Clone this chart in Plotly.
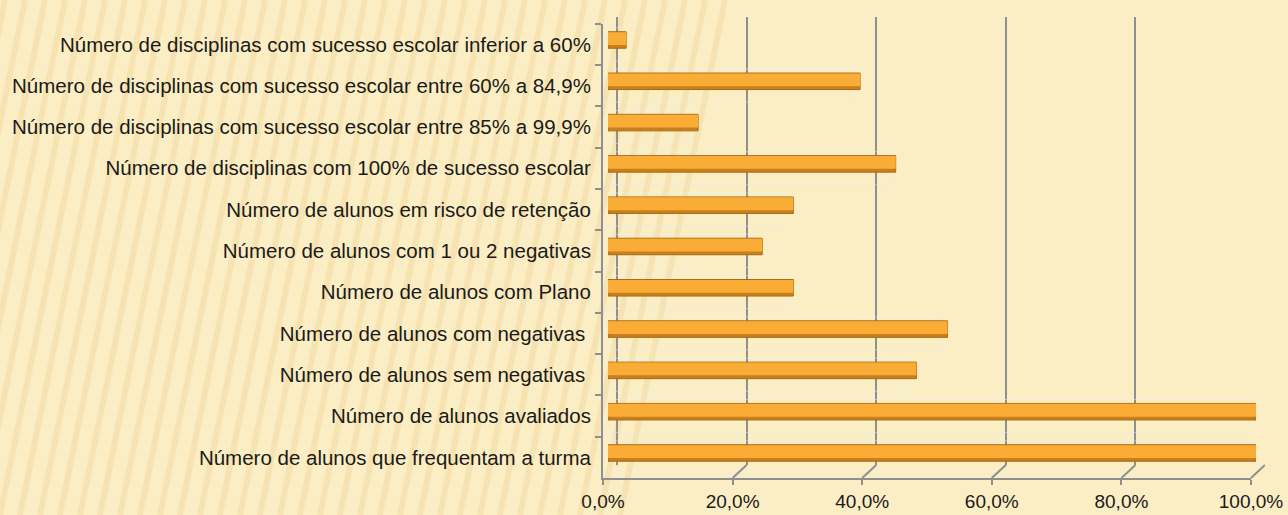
import plotly.graph_objects as go

# categories, top to bottom as in the chart
categorias = [
    "Número de disciplinas com sucesso escolar inferior a 60%",
    "Número de disciplinas com sucesso escolar entre 60% a 84,9%",
    "Número de disciplinas com sucesso escolar entre 85% a 99,9%",
    "Número de disciplinas com 100% de sucesso escolar",
    "Número de alunos em risco de retenção",
    "Número de alunos com 1 ou 2 negativas",
    "Número de alunos com Plano",
    "Número de alunos com negativas\u00a0",
    "Número de alunos sem negativas\u00a0",
    "Número de alunos avaliados",
    "Número de alunos que frequentam a turma",
]
percentagens = [0.028, 0.389, 0.139, 0.444, 0.286, 0.238, 0.286, 0.524, 0.476, 1.0, 1.0]
ticks_x = [0, 0.2, 0.4, 0.6, 0.8, 1.0]

W, H = 1288, 515
FONT = "Liberation Sans, Arial, sans-serif"
GREY = "#8f8f8f"

def px_x(a, b):
    return [a / W, b / W]

def px_y(top, bottom):
    return [1 - bottom / H, 1 - top / H]

fig = go.Figure()

# front frame: category labels and % axis (invisible bars just to carry categories)
fig.add_trace(go.Bar(x=percentagens, y=categorias, orientation="h", xaxis="x2", yaxis="y2",
                     marker=dict(color="rgba(0,0,0,0)"), hoverinfo="skip", showlegend=False))

# bars: darker body + lighter highlight to fake the cylinder look
# (y axis is reversed, so a negative offset sits towards the top of the bar)
fig.add_trace(go.Bar(x=percentagens, y=categorias, orientation="h", xaxis="x3", yaxis="y3",
                     width=0.4, marker=dict(color="#C97F1A", line=dict(color="#A96B16", width=1)),
                     showlegend=False, hovertemplate="%{y}: %{x:.1%}<extra></extra>"))
fig.add_trace(go.Bar(x=percentagens, y=categorias, orientation="h", xaxis="x3", yaxis="y3",
                     width=0.31, offset=-0.19, marker=dict(color="#F9AD36", line=dict(width=0)),
                     hoverinfo="skip", showlegend=False))

# background texture stripes
shapes = []
for i in range(-6, 32):
    x0 = i * 20
    shapes.append(dict(type="line", xref="paper", yref="paper", layer="below",
                       x0=x0 / W, y0=0, x1=(x0 + 105) / W, y1=1,
                       line=dict(color="rgba(226,192,110,0.22)", width=6)))

# diagonal connectors back wall -> front axis
for v in ticks_x:
    shapes.append(dict(type="line", xref="x", yref="paper",
                       x0=v, y0=1 - 465 / H, x1=v - 14 / 648, y1=1 - 478 / H,
                       line=dict(color=GREY, width=2)))
shapes.append(dict(type="line", xref="x", yref="paper",
                   x0=0, y0=1 - 17 / H, x1=-14 / 648, y1=1 - 30 / H,
                   line=dict(color=GREY, width=2)))

fig.update_layout(
    width=W, height=H, autosize=False,
    margin=dict(l=0, r=0, t=0, b=0, pad=0, autoexpand=False),
    paper_bgcolor="#FBEEC4",
    plot_bgcolor="rgba(0,0,0,0)",
    separators=",.",
    barmode="overlay",
    font=dict(family=FONT, size=20.5, color="#1a1a1a"),
    shapes=shapes,
    # back wall grid
    xaxis=dict(domain=px_x(617, 1265), range=[0, 1], dtick=0.2, showgrid=True, gridcolor=GREY,
               gridwidth=2, zeroline=True, zerolinecolor=GREY, zerolinewidth=2,
               showticklabels=False, ticks="", anchor="y", fixedrange=True, automargin=False),
    yaxis=dict(domain=px_y(17, 465), range=[0, 1], showgrid=False, zeroline=False,
               showticklabels=False, anchor="x", fixedrange=True, automargin=False),
    # front axes
    xaxis2=dict(domain=px_x(603, 1251), range=[0, 1], tickvals=ticks_x, tickformat=".1%",
                showgrid=False, zeroline=False, showline=True, linecolor=GREY, linewidth=2,
                ticks="outside", ticklen=5, tickcolor=GREY, tickwidth=2,
                tickfont=dict(size=19), anchor="y2", ticklabelstandoff=0,
                fixedrange=True, automargin=False),
    yaxis2=dict(domain=px_y(23.7, 478), type="category", range=[10.5, -0.5],
                showgrid=False, zeroline=False, showline=True, linecolor=GREY, linewidth=2,
                ticks="outside", tickson="boundaries", ticklen=6, tickcolor=GREY, tickwidth=2,
                anchor="x2", ticklabelstandoff=6, fixedrange=True, automargin=False),
    # bars
    xaxis3=dict(domain=px_x(608, 1256), range=[0, 1], visible=False, anchor="y3",
                fixedrange=True, automargin=False),
    yaxis3=dict(domain=px_y(19.35, 473.65), type="category", range=[10.5, -0.5],
                visible=False, anchor="x3", fixedrange=True, automargin=False),
)

# page body has a default 8px margin, drop it so the chart fills the window
fig.write_html("out.html", config={"displayModeBar": False},
               post_script="document.body.style.margin='0';document.body.style.overflow='hidden';")
